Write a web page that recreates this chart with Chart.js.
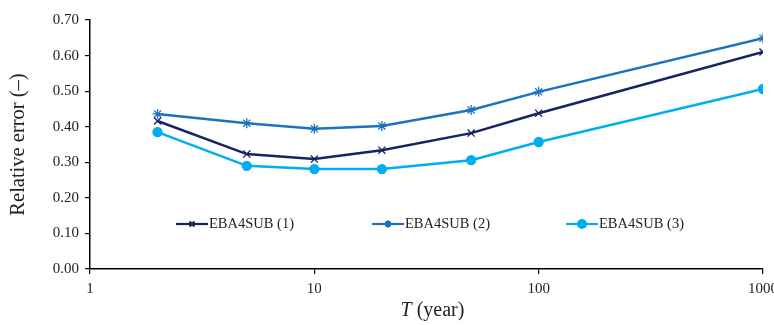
<!DOCTYPE html>
<html lang="en">
<head>
<meta charset="UTF-8">
<title>Relative error vs T</title>
<script src="https://cdn.jsdelivr.net/npm/chart.js@4.4.0/dist/chart.umd.min.js"></script>
<style>
  html, body { margin: 0; padding: 0; background: #fff; overflow: hidden; }
  #wrap { width: 774px; height: 325px; overflow: hidden; }
  #box { width: 784px; height: 325px; }
</style>
</head>
<body>
<div id="wrap"><div id="box"><canvas id="chart"></canvas></div></div>
<script>
// return periods (years)
const periods = [2, 5, 10, 20, 50, 100, 1000];
const seriesNames = ['EBA4SUB (1)', 'EBA4SUB (2)', 'EBA4SUB (3)'];
const eba1 = [0.416, 0.323, 0.309, 0.334, 0.382, 0.438, 0.610];
const eba2 = [0.436, 0.410, 0.394, 0.402, 0.447, 0.498, 0.649];
const eba3 = [0.385, 0.290, 0.281, 0.281, 0.306, 0.357, 0.506];
const xTicks = [1, 10, 100, 1000];
const yTicks = [0, 0.1, 0.2, 0.3, 0.4, 0.5, 0.6, 0.7];

const FONT = "'Liberation Serif', 'DejaVu Serif', serif";
const colors = ['#15245f', '#1b72c0', '#00aeef'];
const styles = ['crossRot', 'star', 'circle'];

const toPoints = vals => periods.map((p, i) => ({ x: p, y: vals[i] }));

// legend sits inside the plot, spread out like the original
const insideLegend = {
  id: 'insideLegend',
  afterDatasetsDraw(chart) {
    const ctx = chart.ctx;
    const starts = [176, 372, 566];
    const y = 224;
    ctx.save();
    chart.data.datasets.forEach((ds, i) => {
      const x0 = starts[i];
      ctx.strokeStyle = ds.borderColor;
      ctx.lineWidth = 2.2;
      ctx.beginPath();
      ctx.moveTo(x0, y);
      ctx.lineTo(x0 + 32, y);
      ctx.stroke();
      ctx.fillStyle = ds.pointBackgroundColor;
      ctx.strokeStyle = ds.pointBorderColor;
      Chart.helpers.drawPoint(ctx, {
        pointStyle: ds.pointStyle,
        radius: ds.pointStyle === 'circle' ? 4 : 3.5,
        borderWidth: 1
      }, x0 + 16, y);
      ctx.fillStyle = '#222';
      ctx.font = '14.5px ' + FONT;
      ctx.textBaseline = 'middle';
      ctx.textAlign = 'left';
      ctx.fillText(ds.label, x0 + 33, y);
    });
    ctx.restore();
  }
};

// x title with italic T
const xTitle = {
  id: 'xTitle',
  afterDraw(chart) {
    const ctx = chart.ctx;
    const a = chart.chartArea;
    ctx.save();
    ctx.fillStyle = '#222';
    ctx.textBaseline = 'middle';
    ctx.font = 'italic 20px ' + FONT;
    const t = 'T';
    const wT = ctx.measureText(t).width;
    ctx.font = '20px ' + FONT;
    const rest = ' (year)';
    const wR = ctx.measureText(rest).width;
    const x = (a.left + a.right) / 2 - (wT + wR) / 2 + 6;
    const y = 311;
    ctx.font = 'italic 20px ' + FONT;
    ctx.fillText(t, x, y);
    ctx.font = '20px ' + FONT;
    ctx.fillText(rest, x + wT, y);
    ctx.restore();
  }
};

const datasets = [eba1, eba2, eba3].map((vals, i) => ({
  label: seriesNames[i],
  data: toPoints(vals),
  borderColor: colors[i],
  backgroundColor: colors[i],
  pointBackgroundColor: colors[i],
  pointBorderColor: colors[i],
  pointStyle: styles[i],
  pointRadius: i === 2 ? 4.5 : 5,
  pointBorderWidth: 1.3,
  borderWidth: 2.5,
  tension: 0
}));

new Chart(document.getElementById('chart'), {
  type: 'line',
  data: { datasets },
  options: {
    responsive: true,
    maintainAspectRatio: false,
    animation: false,
    layout: { padding: { top: 20, left: 0, right: 0, bottom: 0 } },
    plugins: {
      legend: { display: false },
      tooltip: { enabled: false }
    },
    scales: {
      x: {
        type: 'logarithmic',
        min: 1,
        max: 1000,
        afterBuildTicks: s => { s.ticks = xTicks.map(v => ({ value: v })); },
        afterFit: s => { s.height = 56; },
        ticks: {
          autoSkip: false,
          maxRotation: 0,
          color: '#222',
          padding: 6,
          font: { family: FONT, size: 15 },
          callback: v => String(v)
        },
        grid: { drawOnChartArea: false, color: '#000', tickLength: 5, lineWidth: 1.2 },
        border: { color: '#000', width: 1.5 }
      },
      y: {
        min: 0,
        max: 0.7,
        afterBuildTicks: s => { s.ticks = yTicks.map(v => ({ value: v })); },
        afterFit: s => { s.width = 90; },
        ticks: {
          color: '#222',
          padding: 6,
          font: { family: FONT, size: 15 },
          callback: v => Number(v).toFixed(2)
        },
        title: {
          display: true,
          text: 'Relative error (\u2013)',
          color: '#222',
          font: { family: FONT, size: 20.5 },
          padding: { top: 6, bottom: 4 }
        },
        grid: { drawOnChartArea: false, color: '#000', tickLength: 5, lineWidth: 1.2 },
        border: { color: '#000', width: 1.5 }
      }
    }
  },
  plugins: [insideLegend, xTitle]
});
</script>
</body>
</html>
